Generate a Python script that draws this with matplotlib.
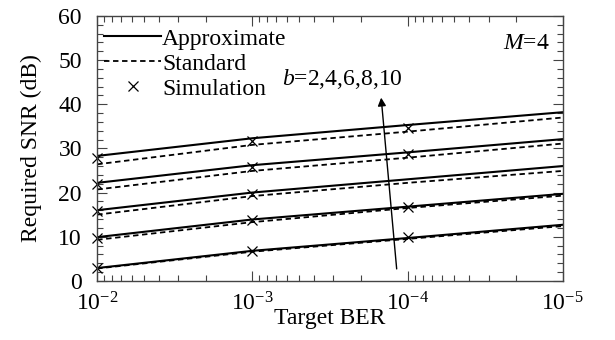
import matplotlib
matplotlib.use("Agg")
import matplotlib.pyplot as plt
from matplotlib.ticker import MultipleLocator, LogLocator, NullFormatter

plt.rcParams["font.family"] = ["Liberation Serif", "DejaVu Serif"]
plt.rcParams["mathtext.fontset"] = "custom"
plt.rcParams["mathtext.rm"] = "Liberation Serif"
plt.rcParams["mathtext.it"] = "Liberation Serif:italic"

# target BER points
ber = [1e-2, 1e-3, 1e-4, 1e-5]
sim_ber = [1e-2, 1e-3, 1e-4]

# required SNR (dB) for b = 2, 4, 6, 8, 10
approx = {
    2: [2.9, 6.8, 9.7, 12.7],
    4: [9.9, 13.9, 16.8, 19.7],
    6: [16.0, 20.0, 23.0, 26.0],
    8: [22.2, 26.2, 29.1, 32.1],
    10: [28.3, 32.3, 35.3, 38.2],
}
standard = {
    2: [2.8, 6.6, 9.5, 12.4],
    4: [9.3, 13.3, 16.5, 19.3],
    6: [15.0, 19.2, 22.2, 24.9],
    8: [20.7, 24.9, 27.9, 31.1],
    10: [26.4, 30.8, 33.8, 37.0],
}
simulation = {
    2: [2.9, 6.8, 9.9],
    4: [9.7, 13.7, 16.7],
    6: [15.9, 19.7, None],
    8: [21.9, 25.9, 28.8],
    10: [27.8, 31.7, 34.7],
}

fig, ax = plt.subplots(figsize=(6.15, 3.4), dpi=100)
fig.subplots_adjust(left=0.158, right=0.915, top=0.953, bottom=0.174)

for i, b in enumerate(approx):
    ax.plot(ber, approx[b], color="black", lw=1.5,
            label="Approximate" if i == 0 else None)
    ax.plot(ber, standard[b], color="black", lw=1.3, ls=(0, (3, 2)),
            label="Standard" if i == 0 else None)
    xs = [x for x, y in zip(sim_ber, simulation[b]) if y is not None]
    ys = [y for y in simulation[b] if y is not None]
    ax.plot(xs, ys, ls="none", marker="x", ms=7, mew=0.9, color="black",
            label="Simulation" if i == 0 else None, clip_on=False)

ax.set_xscale("log")
ax.set_xlim(1e-2, 1e-5)
ax.set_ylim(0, 60)
ax.yaxis.set_major_locator(MultipleLocator(10))
ax.yaxis.set_minor_locator(MultipleLocator(2))
ax.xaxis.set_major_locator(LogLocator(base=10, numticks=10))
ax.xaxis.set_minor_locator(LogLocator(base=10, subs=range(2, 10), numticks=20))
ax.xaxis.set_minor_formatter(NullFormatter())

ax.tick_params(which="both", direction="in", top=True, right=True,
               labelsize=17, color="#444444")
ax.tick_params(which="major", length=7, width=0.8)
ax.tick_params(which="minor", length=4, width=0.8)
ax.tick_params(axis="x", pad=8)
ax.tick_params(axis="y", pad=11)
for s in ax.spines.values():
    s.set_linewidth(1.0)
    s.set_color("#444444")

ax.set_xlabel("Target BER", fontsize=17, labelpad=-5)
ax.set_ylabel("Required SNR (dB)", fontsize=17, labelpad=12)

ax.annotate("", xy=(10**-3.83, 41.5), xytext=(10**-3.93, 2.7),
            arrowprops=dict(arrowstyle="-|>", color="black", lw=1.0,
                            mutation_scale=12, shrinkA=0, shrinkB=0))
ax.text(10**-3.58, 45.8, "$b$=2,4,6,8,10", fontsize=17, ha="center", va="center")
ax.text(0.972, 0.897, "$M$=4", transform=ax.transAxes, fontsize=17,
        ha="right", va="center")

ax.legend(loc="upper left", bbox_to_anchor=(0.0, 0.981), frameon=False,
          fontsize=17, handlelength=2.4, handletextpad=0.05,
          labelspacing=0.15, borderaxespad=0.1, borderpad=0.2)

fig.savefig("out.png", dpi=100)
